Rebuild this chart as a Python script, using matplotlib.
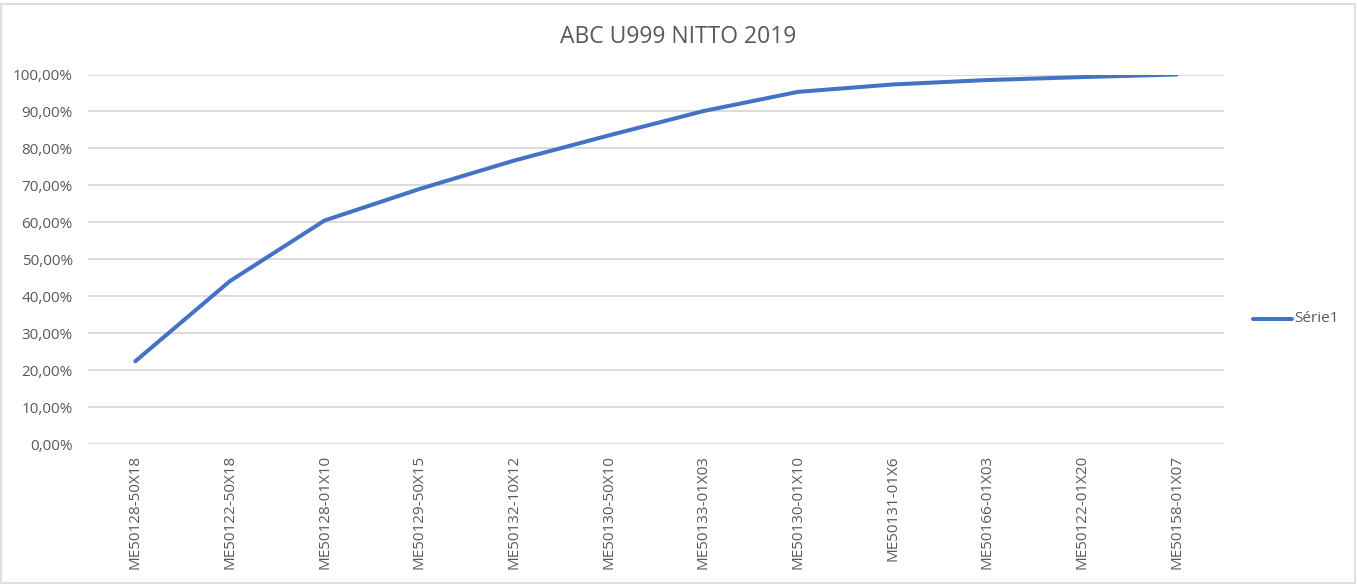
import matplotlib.pyplot as plt
from matplotlib.patches import Rectangle
from matplotlib.lines import Line2D
from matplotlib.ticker import FuncFormatter

# Cumulative ABC share per item
items = [
    "ME50128-50X18", "ME50122-50X18", "ME50128-01X10", "ME50129-50X15",
    "ME50132-10X12", "ME50130-50X10", "ME50133-01X03", "ME50130-01X10",
    "ME50131-01X6", "ME50166-01X03", "ME50122-01X20", "ME50158-01X07",
]
cumulative = [0.224, 0.441, 0.605, 0.690, 0.767, 0.835, 0.901, 0.953,
              0.973, 0.985, 0.993, 1.000]
series_name = "Série1"
title = "ABC U999 NITTO 2019"

W, H = 1357, 584
fig = plt.figure(figsize=(W / 100, H / 100), dpi=100)
plt.rcParams["font.family"] = ["Open Sans", "DejaVu Sans"]

grey_text = "#595959"
grid_col = "#d9d9d9"
blue = "#4472C4"

# axes box in pixel coords
left, right, top, bottom = 88, 1224, 74.5, 444
ax = fig.add_axes([left / W, 1 - bottom / H, (right - left) / W, (bottom - top) / H])

x = range(len(items))
ax.plot(x, cumulative, color=blue, lw=2.9, solid_capstyle="round",
        solid_joinstyle="round", zorder=3)

ax.set_xlim(-0.5, len(items) - 0.5)
ax.set_ylim(0, 1)
ax.set_yticks([i / 10 for i in range(11)])
ax.yaxis.set_major_formatter(FuncFormatter(lambda v, p: f"{v * 100:.2f}%".replace(".", ",")))
ax.set_xticks(list(x))
ax.set_xticklabels(items, rotation=90, va="top", ha="center")

ax.grid(axis="y", color=grid_col, lw=1.3)
ax.set_axisbelow(True)
for s in ax.spines.values():
    s.set_visible(False)
ax.tick_params(length=0, colors=grey_text, labelsize=11)
ax.tick_params(axis="y", pad=11)
ax.tick_params(axis="x", pad=8)

fig.text(0.5, 1 - 37 / H, title, ha="center", va="center", fontsize=16.5, color=grey_text)

# legend on the right
fig.add_artist(Line2D([1253 / W, 1292 / W], [1 - 319 / H, 1 - 319 / H],
                      color=blue, lw=2.9, solid_capstyle="round"))
fig.text(1294 / W, 1 - 319 / H, series_name, ha="left", va="center",
         fontsize=11, color=grey_text)

# chart border
fig.add_artist(Rectangle((1 / W, 1 / H), (W - 3) / W, (H - 5) / H,
                         transform=fig.transFigure, fill=False,
                         edgecolor=grid_col, lw=1.2))

fig.savefig("out.png", dpi=100, facecolor="white")
